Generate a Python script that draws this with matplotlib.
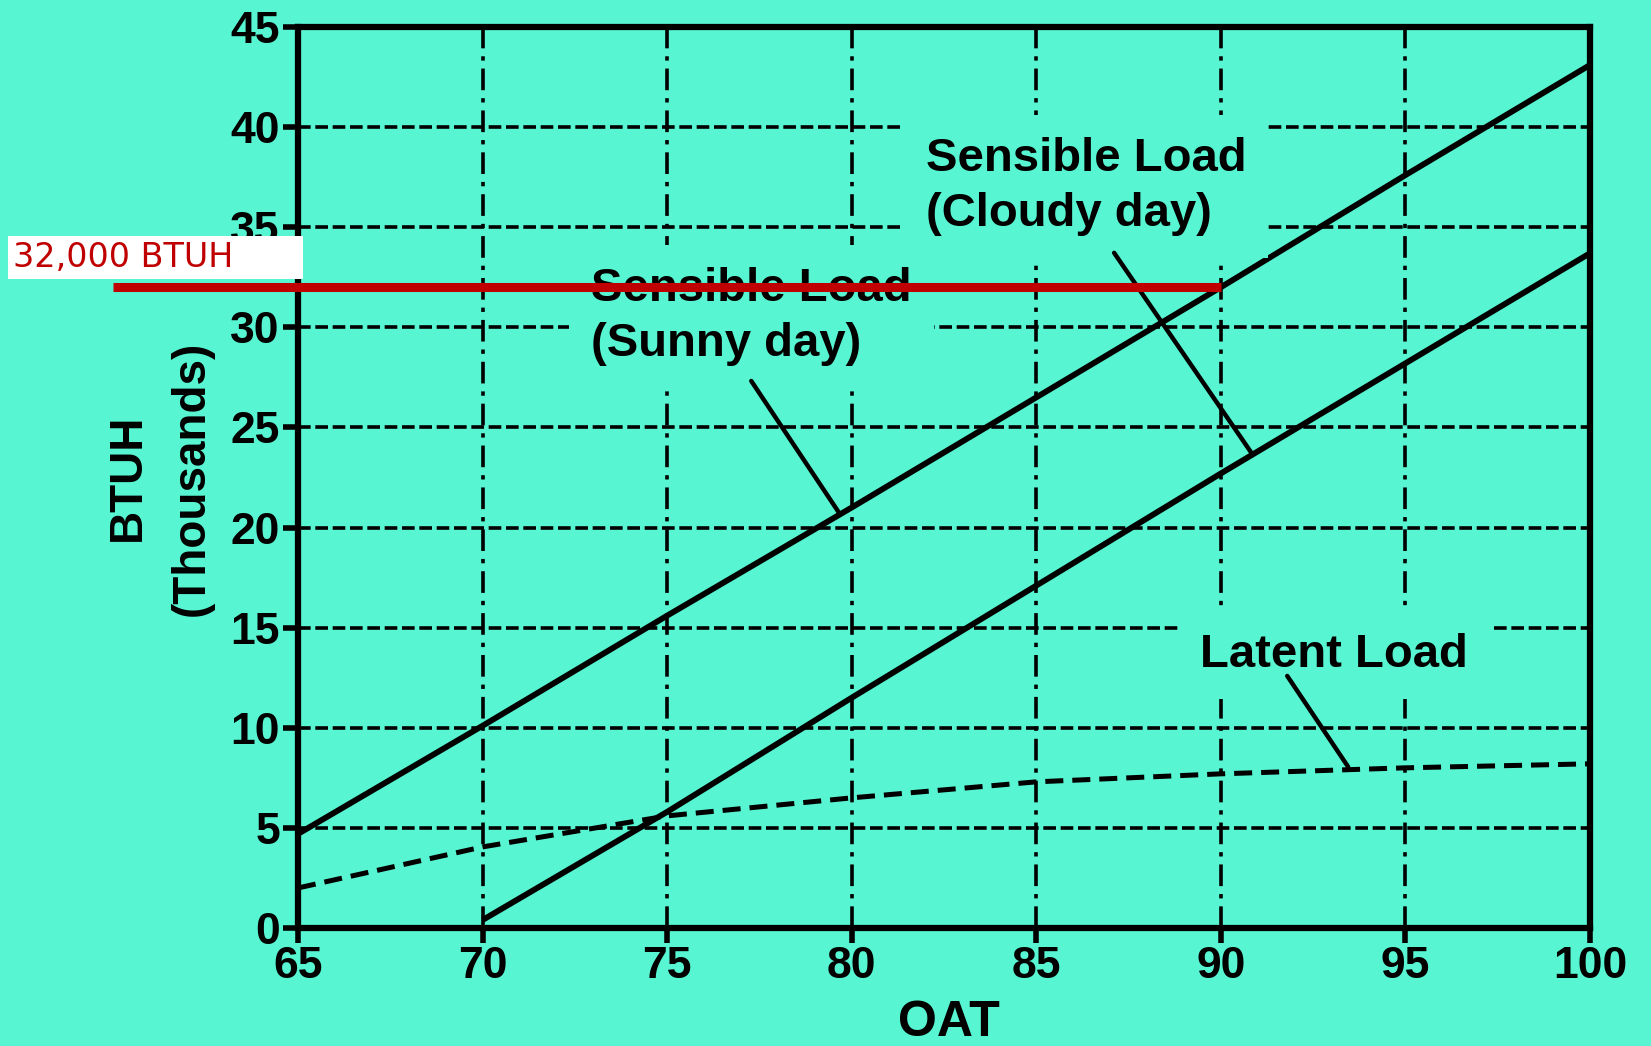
import matplotlib
matplotlib.use("Agg")
import matplotlib.pyplot as plt
from matplotlib.patches import Rectangle

plt.rcParams['font.family'] = ['Liberation Sans', 'DejaVu Sans']

BG = '#57F5D2'
RED = '#C00000'

# values (BTUH in thousands vs outdoor air temp)
oat = [65, 70, 75, 80, 85, 90, 95, 100]
sunny = [4.7, 10.1, 15.6, 21.0, 26.5, 32.0, 37.6, 43.1]
cloudy_oat = [70, 75, 80, 85, 90, 95, 100]
cloudy = [0.4, 5.8, 11.5, 17.1, 22.7, 28.2, 33.7]
latent = [2.0, 4.05, 5.6, 6.5, 7.3, 7.7, 8.0, 8.2]

target = 32          # 32,000 BTUH marker
target_x = [60, 90]

xticks = [65, 70, 75, 80, 85, 90, 95, 100]
yticks = [0, 5, 10, 15, 20, 25, 30, 35, 40, 45]

fig = plt.figure(figsize=(16.51, 10.46), dpi=100, facecolor=BG)
ax = fig.add_axes([0.1805, 0.1128, 0.7825, 0.8614], facecolor=BG)

ax.set_xlim(65, 100)
ax.set_ylim(0, 45)
ax.set_xticks(xticks)
ax.set_yticks(yticks)
ax.set_axisbelow(True)

# grid: vertical dash-dot, horizontal short dashes
ax.grid(axis='x', color='black', lw=2.6, linestyle=(0, (6, 2.2, 1.2, 2.2)))
ax.grid(axis='y', color='black', lw=2.6, linestyle=(0, (3.5, 1.3)))

for s in ax.spines.values():
    s.set_linewidth(4.5)
    s.set_zorder(2.6)

ax.tick_params(direction='out', length=11, width=4, pad=2,
               labelsize=32, colors='black')
for lab in ax.get_xticklabels() + ax.get_yticklabels():
    lab.set_fontweight('bold')

ax.plot(oat, sunny, color='black', lw=4.2, solid_capstyle='butt', zorder=2.5)
ax.plot(cloudy_oat, cloudy, color='black', lw=4.2, solid_capstyle='butt', zorder=2.5)
ax.plot(oat, latent, color='black', lw=3.6, dashes=(3.6, 1.8), zorder=2.5)

box = dict(facecolor=BG, edgecolor='none', pad=16)
ax.text(82.0, 39.5, "Sensible Load\n(Cloudy day)", fontsize=34,
        fontweight='bold', ha='left', va='top', bbox=box, zorder=3,
        linespacing=1.32)
ax.text(72.95, 33.0, "Sensible Load\n(Sunny day)", fontsize=34,
        fontweight='bold', ha='left', va='top', bbox=box, zorder=3,
        linespacing=1.32)
ax.text(89.45, 14.75, "Latent Load", fontsize=34,
        fontweight='bold', ha='left', va='top', bbox=box, zorder=3)

leader = dict(arrowstyle='-', lw=3.2, color='black', shrinkA=0, shrinkB=0)
ax.annotate('', xy=(90.83, 23.73), xytext=(87.11, 33.72), arrowprops=leader)
ax.annotate('', xy=(79.66, 20.73), xytext=(77.28, 27.32), arrowprops=leader)
ax.annotate('', xy=(93.45, 8.05), xytext=(91.80, 12.59), arrowprops=leader)

# red 32,000 BTUH marker
ax.plot(target_x, [target, target], color=RED, lw=6.5,
        solid_capstyle='butt', clip_on=False, zorder=10)

fig.add_artist(Rectangle((0.00485, 0.7333), 0.1787, 0.0411,
                         transform=fig.transFigure, facecolor='white',
                         edgecolor='none', zorder=5))
fig.text(0.0079, 0.7447, "32,000 BTUH", color=RED, fontsize=24,
         family='DejaVu Sans', ha='left', va='baseline', zorder=6)

fig.text(0.575, 0.022, "OAT", fontsize=36, fontweight='bold',
         ha='center', va='center')
fig.text(0.0775, 0.544, "BTUH", fontsize=33, fontweight='bold',
         rotation=90, ha='center', va='center')
fig.text(0.1163, 0.543, "(Thousands)", fontsize=33, fontweight='bold',
         rotation=90, ha='center', va='center')

fig.savefig("out.png", dpi=100, facecolor=BG)
